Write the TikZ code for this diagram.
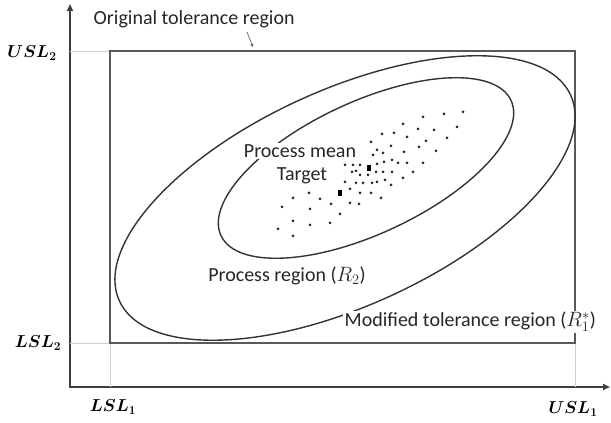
\documentclass[tikz,border=0pt]{standalone}
\usepackage{fontspec}
\setmainfont{Carlito}
\usetikzlibrary{arrows.meta}
\begin{document}
\begin{tikzpicture}[x=1pt,y=1pt,
  lbl/.style={font=\fontsize{20}{24}\selectfont, text=black!85, inner sep=1.5pt},
  lim/.style={font=\fontsize{18.5}{20}\selectfont\boldmath, inner sep=0pt},
  axisline/.style={line width=1.8pt, draw=black!75, {Triangle[length=7pt,width=6pt]}-{Triangle[length=7pt,width=6pt]}},
  guide/.style={draw=black!18, line width=0.8pt},
  boxline/.style={draw=black!65, line width=1.2pt},
  curve/.style={draw=black!80, line width=1.4pt},
  dot/.style={fill=black!85, circle, inner sep=0pt, minimum size=3pt},
  meanmark/.style={fill=black, inner sep=0pt, minimum width=4.5pt, minimum height=6pt}]
\useasboundingbox (0,0) rectangle (611,423);
% axes
\coordinate (O) at (70,36);
\coordinate (ytip) at (70,419);
\coordinate (xtip) at (610,36);
\draw[axisline] (ytip) -- (O) -- (xtip);
% tolerance rectangle
\coordinate (LL) at (110,80);
\coordinate (UR) at (575,372);
\draw[guide] (O |- UR) -- (LL |- UR);
\draw[guide] (O |- LL) -- (LL);
\draw[guide] (LL) -- (LL |- O);
\draw[guide] (UR |- LL) -- (UR |- O);
\draw[boxline] (LL) rectangle (UR);
% ellipses
\coordinate (c1) at (345,225);
\coordinate (c2) at (366,255);
\draw[curve] (c1) ellipse [x radius=248, y radius=108, rotate=24.5];
\draw[curve] (c2) ellipse [x radius=160, y radius=66, rotate=25];
% sample points
\foreach \x/\y [count=\i] in {
 463/112,444/114,423/117,403/124,457/127,434/130,418/129,394/133,382/134,407/137,
 447/138,426/141,371/142,391/146,419/147,436/151,404/152,377/150,383/153,373/155,
 392/160,398/163,423/163,407/163,384/162,377/164,413/172,403/178,
 345/165,353/165,360/165,356/171,352/172,360/175,368/175,376/172,383/172,392/172,
 385/180,391/185,345/182,356/183,363/183,372/183,377/182,350/189,360/193,371/193,381/198,
 309/193,320/199,293/198,331/204,350/203,359/204,282/207,310/209,340/214,
 293/221,310/225,330/223,278/229,293/236}
  \node[dot] (d\i) at (\x,{423-\y}) {};
\node[meanmark] (pm) at (369,255) {};
\node[meanmark] (tg) at (340,230) {};
% labels
\node[lbl, anchor=west] (otr) at (92,404) {Original tolerance region};
\coordinate (a1) at (247,391);
\coordinate (a2) at (253,376);
\draw[-{Stealth[length=3.5pt,width=3pt]}, draw=black!70, line width=0.6pt] (a1) -- (a2);
\node[lbl, fill=white] (pmean) at (300,272) {Process mean};
\node[lbl] (tgt) at (302,247) {Target};
\node[lbl] (preg) at (287,147) {Process region ($R_2$)};
\node[lbl, fill=white, anchor=west] (mtr) at (343,101) {Modified tolerance region ($R_1^*$)};
\node[lim] (usl2) at (32,370) {$USL_2$};
\node[lim] (lsl2) at (38,80) {$LSL_2$};
\node[lim] (lsl1) at (113,16) {$LSL_1$};
\node[lim] (usl1) at (573,14) {$USL_1$};
\end{tikzpicture}
\end{document}
